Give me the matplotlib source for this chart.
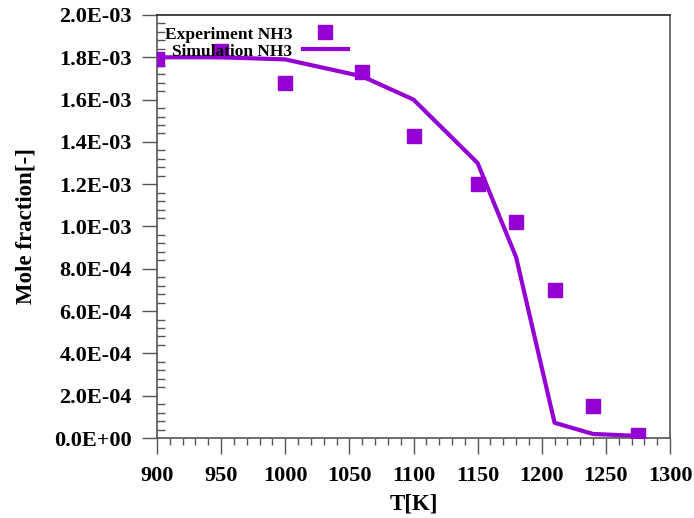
import matplotlib
matplotlib.use("Agg")
import matplotlib.pyplot as plt
from matplotlib.ticker import MultipleLocator, FuncFormatter

# Experimental NH3 mole fractions
exp_T = [900, 950, 1000, 1060, 1100, 1150, 1180, 1210, 1240, 1275]
exp_x = [1.79e-3, 1.83e-3, 1.68e-3, 1.73e-3, 1.43e-3, 1.20e-3, 1.02e-3, 7.0e-4, 1.5e-4, 1.5e-5]

# Simulated NH3 mole fractions
sim_T = [900, 950, 1000, 1060, 1100, 1150, 1180, 1210, 1240, 1275]
sim_x = [1.80e-3, 1.80e-3, 1.79e-3, 1.71e-3, 1.60e-3, 1.30e-3, 8.55e-4, 7.2e-5, 1.9e-5, 1.0e-5]

color = "#9400D3"
plt.rcParams["font.family"] = ["Liberation Serif", "DejaVu Serif"]
plt.rcParams["font.weight"] = "bold"

fig = plt.figure(figsize=(6.94, 5.18), dpi=100)
ax = fig.add_axes([157 / 694, 80 / 518, 513 / 694, 423 / 518])

ax.plot(exp_T, exp_x, linestyle="none", marker="s", markersize=10,
        color=color, label="Experiment NH3", zorder=3)
ax.plot(sim_T, sim_x, linestyle="-", linewidth=3, color=color,
        label="Simulation NH3", zorder=2)

ax.set_xlim(900, 1300)
ax.set_ylim(0, 2.0e-3)
ax.xaxis.set_major_locator(MultipleLocator(50))
ax.xaxis.set_minor_locator(MultipleLocator(10))
ax.yaxis.set_major_locator(MultipleLocator(2e-4))
ax.yaxis.set_minor_locator(MultipleLocator(4e-5))
ax.yaxis.set_major_formatter(FuncFormatter(lambda v, p: "{:.1E}".format(v)))

spine_col = "#555555"
for s in ax.spines.values():
    s.set_color(spine_col)
    s.set_linewidth(1.2)
ax.spines["top"].set_color("#222222")

ax.tick_params(axis="x", which="major", direction="out", length=11.5, width=1,
               color=spine_col, labelsize=16, pad=9)
ax.tick_params(axis="x", which="minor", direction="out", length=5, width=1,
               color=spine_col)
ax.tick_params(axis="y", which="major", direction="out", length=11, width=1,
               color=spine_col, labelsize=16, pad=7)
ax.tick_params(axis="y", which="minor", direction="in", length=6, width=1,
               color=spine_col)
for lab in ax.get_xticklabels() + ax.get_yticklabels():
    lab.set_fontweight("bold")

ax.set_xlabel("T[K]", fontsize=16.5, fontweight="bold", labelpad=5)
ax.set_ylabel("Mole fraction[-]", fontsize=16.5, fontweight="bold", labelpad=13)

ax.legend(loc="upper left", bbox_to_anchor=(-0.015, 1.01), frameon=False,
          markerfirst=False, handlelength=2.6,
          handletextpad=0.6, labelspacing=0.05,
          prop={"weight": "bold", "size": 12.5})

fig.savefig("out.png", dpi=100)
